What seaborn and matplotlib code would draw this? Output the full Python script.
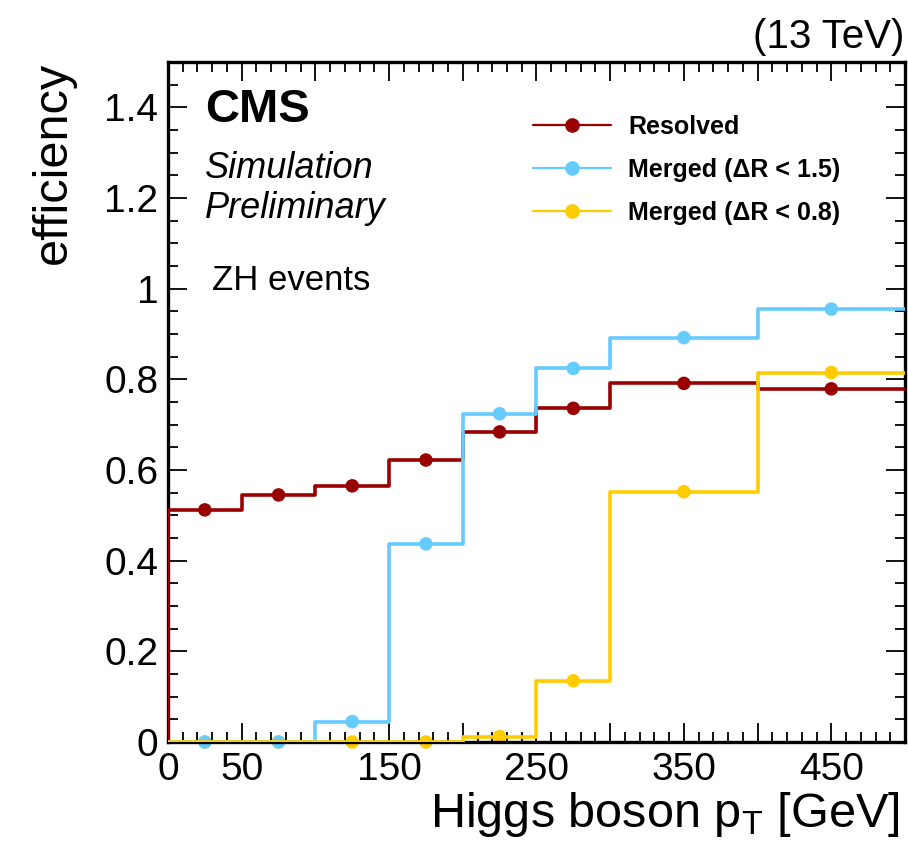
import numpy as np
import pandas as pd
import seaborn as sns
import matplotlib.pyplot as plt
from matplotlib.lines import Line2D
from matplotlib.ticker import FixedLocator, MultipleLocator

# bin edges of Higgs pT [GeV] and efficiencies per bin
bin_edges = [0, 50, 100, 150, 200, 250, 300, 400, 500]
resolved = [0.512, 0.545, 0.565, 0.622, 0.684, 0.736, 0.791, 0.779]
merged_15 = [0.0, 0.0, 0.045, 0.437, 0.724, 0.824, 0.892, 0.955]
merged_08 = [0.0, 0.0, 0.0, 0.0, 0.012, 0.135, 0.552, 0.815]

series_names = ["Resolved", "Merged (\u0394R < 1.5)", "Merged (\u0394R < 0.8)"]
series_colors = ["#990000", "#66ccff", "#ffcc00"]

x_tick_values = [0, 50, 100, 150, 200, 250, 300, 350, 400, 450, 500]
x_tick_labels = ["0", "50", "", "150", "", "250", "", "350", "", "450", ""]
y_tick_values = [0, 0.2, 0.4, 0.6, 0.8, 1.0, 1.2, 1.4]
y_tick_labels = ["0", "0.2", "0.4", "0.6", "0.8", "1", "1.2", "1.4"]


def step_frame(values):
    edges = np.asarray(bin_edges, dtype=float)
    vals = np.asarray(values, dtype=float)
    x = np.r_[edges[0], edges]
    y = np.r_[0.0, vals, vals[-1]]
    return pd.DataFrame({"x": x, "y": y})


def center_frame(values):
    edges = np.asarray(bin_edges, dtype=float)
    return pd.DataFrame({"x": 0.5 * (edges[:-1] + edges[1:]), "y": values})


sns.set_style("ticks")
plt.rcParams["font.family"] = ["Liberation Sans", "DejaVu Sans"]
plt.rcParams["mathtext.default"] = "regular"
for key in ["text.color", "axes.labelcolor", "xtick.color", "ytick.color",
            "axes.edgecolor"]:
    plt.rcParams[key] = "black"

fig = plt.figure(figsize=(9.08, 8.43), dpi=100)
ax = fig.add_axes([0.185, 0.1198, 0.8117, 0.8067])

all_values = [resolved, merged_15, merged_08]
for vals, color in zip(all_values, series_colors):
    sns.lineplot(data=step_frame(vals), x="x", y="y", ax=ax, color=color,
                 estimator=None, sort=False, drawstyle="steps-post",
                 linewidth=2.6, zorder=3)
# markers: yellow first so the blue ones sit on top at zero
for vals, color in zip(all_values[::-1], series_colors[::-1]):
    sns.scatterplot(data=center_frame(vals), x="x", y="y", ax=ax, color=color,
                    s=95, edgecolor="none", zorder=2.4, clip_on=False)

ax.set_xlim(0, 500)
ax.set_ylim(0, 1.5)

ax.xaxis.set_major_locator(FixedLocator(x_tick_values))
ax.set_xticklabels(x_tick_labels)
ax.xaxis.set_minor_locator(MultipleLocator(10))
ax.yaxis.set_major_locator(FixedLocator(y_tick_values))
ax.set_yticklabels(y_tick_labels)
ax.yaxis.set_minor_locator(MultipleLocator(0.05))

ax.tick_params(which="both", direction="in", top=True, right=True, width=1.3,
               color="black")
ax.tick_params(which="major", length=14, labelsize=28, pad=7)
ax.tick_params(which="minor", length=7)
for sp in ax.spines.values():
    sp.set_linewidth(2.4)
    sp.set_color("black")

ax.set_xlabel(r"Higgs boson p$_{T}$ [GeV]", fontsize=35, loc="right")
ax.xaxis.label.set_va("baseline")
ax.xaxis.set_label_coords(0.993, -0.125)
ax.set_ylabel("efficiency", fontsize=35, loc="top")
ax.yaxis.set_label_coords(-0.125, 1.0)

ax.text(0.05, 0.912, "CMS", transform=ax.transAxes, fontsize=34,
        fontweight="bold", va="baseline")
ax.text(0.05, 0.829, "Simulation", transform=ax.transAxes, fontsize=26,
        style="italic", va="baseline")
ax.text(0.05, 0.771, "Preliminary", transform=ax.transAxes, fontsize=26,
        style="italic", va="baseline")
ax.text(0.06, 0.665, "ZH events", transform=ax.transAxes, fontsize=25,
        va="baseline")
fig.text(0.996, 0.943, "(13 TeV)", fontsize=29, ha="right", va="baseline")

handles = [Line2D([], [], color=c, lw=1.6, marker="o", markersize=9.5)
           for c in series_colors]
ax.legend(handles, series_names, loc="upper left", bbox_to_anchor=(0.465, 0.955),
          frameon=False, prop={"weight": "bold", "size": 18},
          handlelength=3.1, handletextpad=0.7, labelspacing=0.75)

fig.savefig("out.png", dpi=100)
